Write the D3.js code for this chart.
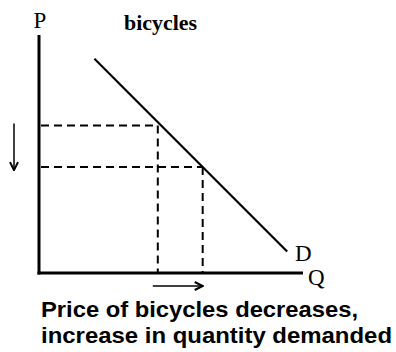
<!DOCTYPE html>
<html>
<head>
<meta charset="utf-8">
<script src="https://cdn.jsdelivr.net/npm/d3@7"></script>
<style>
  body { margin: 0; background: #fff; }
  .serif { font-family: "Liberation Serif", "Times New Roman", serif; }
  .caption { font-family: "Liberation Sans", Arial, sans-serif; font-weight: bold; font-size: 22px; }
</style>
</head>
<body>
<svg width="396" height="352"></svg>
<script>
// demand curve end points (quantity, price)
var demandQ = [21, 94];
var demandP = [90, 9];

// old and new price levels, with the matching quantities demanded
var prices = [62, 44.5];
var quantities = [45, 62];

var product = "bicycles";
var captionLines = ["Price of bicycles decreases,", "increase in quantity demanded"];
var captionWidths = [317, 351];

var svg = d3.select("svg");

var x = d3.scaleLinear().domain([0, 100]).range([39, 303]);
var y = d3.scaleLinear().domain([0, 100]).range([273, 35]);

var defs = svg.append("defs");
defs.append("marker")
    .attr("id", "head")
    .attr("viewBox", "0 0 10 10")
    .attr("refX", 9).attr("refY", 5)
    .attr("markerWidth", 10).attr("markerHeight", 10)
    .attr("markerUnits", "userSpaceOnUse")
    .attr("orient", "auto")
    .append("path")
    .attr("d", "M1,1 L9,5 L1,9")
    .attr("fill", "none")
    .attr("stroke", "#000")
    .attr("stroke-width", 2);

// axes
svg.append("line")
    .attr("x1", x(0)).attr("x2", x(0))
    .attr("y1", y(100)).attr("y2", y(0) + 1.5)
    .attr("stroke", "#000").attr("stroke-width", 3);
svg.append("line")
    .attr("x1", x(0) - 1.5).attr("x2", x(100))
    .attr("y1", y(0)).attr("y2", y(0))
    .attr("stroke", "#000").attr("stroke-width", 3);

// dashed guides
var dash = svg.append("g")
    .attr("stroke", "#000")
    .attr("stroke-width", 2)
    .attr("stroke-dasharray", "8,5")
    .attr("fill", "none");

prices.forEach(function (p, i) {
    dash.append("line")
        .attr("x1", x(0) + 2).attr("x2", x(quantities[i]))
        .attr("y1", y(p)).attr("y2", y(p));
    dash.append("line")
        .attr("x1", x(quantities[i])).attr("x2", x(quantities[i]))
        .attr("y1", y(p)).attr("y2", y(0));
});

// demand line
svg.append("line")
    .attr("x1", x(demandQ[0])).attr("y1", y(demandP[0]))
    .attr("x2", x(demandQ[1])).attr("y2", y(demandP[1]))
    .attr("stroke", "#000").attr("stroke-width", 2.2);

// arrows: price falls, quantity rises
svg.append("line")
    .attr("x1", 14).attr("x2", 14)
    .attr("y1", y(prices[0]) - 2).attr("y2", y(prices[1]) + 3)
    .attr("stroke", "#000").attr("stroke-width", 1.5)
    .attr("marker-end", "url(#head)");
svg.append("line")
    .attr("x1", x(quantities[0]) - 5).attr("x2", x(quantities[1]))
    .attr("y1", 286).attr("y2", 286)
    .attr("stroke", "#000").attr("stroke-width", 1.5)
    .attr("marker-end", "url(#head)");

// labels
svg.append("text").attr("class", "serif")
    .attr("x", 40).attr("y", 28).attr("text-anchor", "middle")
    .style("font-size", "23px").text("P");
svg.append("text").attr("class", "serif")
    .attr("x", 295).attr("y", 261)
    .style("font-size", "23px").text("D");
svg.append("text").attr("class", "serif")
    .attr("x", 308).attr("y", 285)
    .style("font-size", "23px").text("Q");
svg.append("text").attr("class", "serif")
    .attr("x", 124).attr("y", 30)
    .style("font-size", "21px").style("font-weight", "bold")
    .attr("textLength", 73)
    .attr("lengthAdjust", "spacingAndGlyphs")
    .text(product);

svg.selectAll(".caption")
    .data(captionLines)
    .enter()
    .append("text")
    .attr("class", "caption")
    .attr("x", 41)
    .attr("y", function (d, i) { return 317 + i * 26; })
    .attr("textLength", function (d, i) { return captionWidths[i]; })
    .attr("lengthAdjust", "spacingAndGlyphs")
    .text(function (d) { return d; });
</script>
</body>
</html>
